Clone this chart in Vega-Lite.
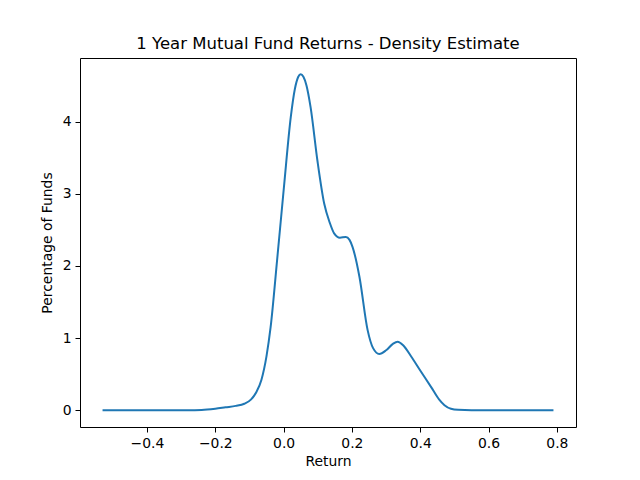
{
  "$schema": "https://vega.github.io/schema/vega-lite/v6.json",
  "autosize": "none",
  "width": 496,
  "height": 369,
  "padding": {"left": 80, "top": 58, "right": 64, "bottom": 53},
  "background": "white",
  "title": {
    "text": "1 Year Mutual Fund Returns - Density Estimate",
    "font": "DejaVu Sans",
    "fontSize": 16.5,
    "fontWeight": "normal",
    "color": "black",
    "offset": 6
  },
  "config": {
    "view": {"stroke": "black", "strokeWidth": 1},
    "axis": {
      "grid": false,
      "domain": false,
      "labelFont": "DejaVu Sans",
      "labelFontSize": 13.9,
      "labelColor": "black",
      "titleFont": "DejaVu Sans",
      "titleFontSize": 13.9,
      "titleFontWeight": "normal",
      "titleColor": "black",
      "tickColor": "black",
      "tickSize": 5,
      "labelPadding": 4
    }
  },
  "data": {
    "values": [
      {"ret": -0.53, "density": 0},
      {"ret": -0.45, "density": 0},
      {"ret": -0.35, "density": 0},
      {"ret": -0.28, "density": 0},
      {"ret": -0.24, "density": 0.003},
      {"ret": -0.2, "density": 0.02},
      {"ret": -0.17, "density": 0.04},
      {"ret": -0.14, "density": 0.06},
      {"ret": -0.115, "density": 0.09},
      {"ret": -0.095, "density": 0.15},
      {"ret": -0.08, "density": 0.25},
      {"ret": -0.065, "density": 0.42},
      {"ret": -0.05, "density": 0.75},
      {"ret": -0.038, "density": 1.15},
      {"ret": -0.019, "density": 2.08},
      {"ret": 0.001, "density": 3.09},
      {"ret": 0.021, "density": 4.06},
      {"ret": 0.033, "density": 4.45},
      {"ret": 0.043, "density": 4.62},
      {"ret": 0.05, "density": 4.655},
      {"ret": 0.058, "density": 4.62},
      {"ret": 0.067, "density": 4.5},
      {"ret": 0.079, "density": 4.2},
      {"ret": 0.099, "density": 3.46},
      {"ret": 0.119, "density": 2.86},
      {"ret": 0.135, "density": 2.6},
      {"ret": 0.148, "density": 2.45},
      {"ret": 0.165, "density": 2.39},
      {"ret": 0.182, "density": 2.4},
      {"ret": 0.193, "density": 2.36},
      {"ret": 0.202, "density": 2.26},
      {"ret": 0.222, "density": 1.85},
      {"ret": 0.246, "density": 1.11},
      {"ret": 0.262, "density": 0.86},
      {"ret": 0.28, "density": 0.78},
      {"ret": 0.3, "density": 0.83},
      {"ret": 0.32, "density": 0.92},
      {"ret": 0.334, "density": 0.95},
      {"ret": 0.35, "density": 0.9},
      {"ret": 0.374, "density": 0.74},
      {"ret": 0.4, "density": 0.55},
      {"ret": 0.432, "density": 0.32},
      {"ret": 0.455, "density": 0.15},
      {"ret": 0.471, "density": 0.07},
      {"ret": 0.49, "density": 0.02},
      {"ret": 0.511, "density": 0.005},
      {"ret": 0.55, "density": 0},
      {"ret": 0.65, "density": 0},
      {"ret": 0.79, "density": 0}
    ]
  },
  "mark": {"type": "line", "interpolate": "monotone", "color": "#1f77b4", "strokeWidth": 2},
  "encoding": {
    "x": {
      "field": "ret",
      "type": "quantitative",
      "title": "Return",
      "scale": {"domain": [-0.596, 0.856], "nice": false, "zero": false},
      "axis": {"values": [-0.4, -0.2, 0, 0.2, 0.4, 0.6, 0.8], "format": ".1f", "titlePadding": 5}
    },
    "y": {
      "field": "density",
      "type": "quantitative",
      "title": "Percentage of Funds",
      "scale": {"domain": [-0.2325, 4.88], "nice": false, "zero": false},
      "axis": {"values": [0, 1, 2, 3, 4], "format": "d", "titlePadding": 8}
    }
  }
}
